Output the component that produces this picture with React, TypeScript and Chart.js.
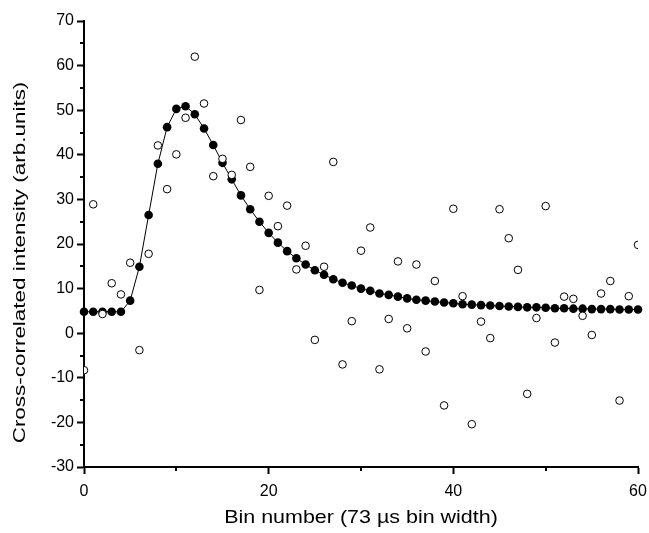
import React, { useEffect, useRef } from "react";
import { Chart, registerables } from "chart.js";

Chart.register(...registerables);

const binNumbers = [
  0, 1, 2, 3, 4, 5, 6, 7, 8, 9, 10, 11, 12, 13, 14, 15, 16, 17, 18, 19, 20,
  21, 22, 23, 24, 25, 26, 27, 28, 29, 30, 31, 32, 33, 34, 35, 36, 37, 38, 39, 40,
  41, 42, 43, 44, 45, 46, 47, 48, 49, 50, 51, 52, 53, 54, 55, 56, 57, 58, 59, 60,
];

const fittedIntensity = [
  4.8, 4.8, 4.8, 4.8, 4.8, 7.3, 14.9, 26.5, 38.0, 46.2,
  50.3, 50.9, 49.1, 45.9, 42.2, 38.2, 34.5, 30.9, 27.8, 25.0,
  22.5, 20.3, 18.4, 16.8, 15.4, 14.1, 13.1, 12.1, 11.3, 10.7,
  10.0, 9.5, 8.9, 8.6, 8.2, 7.8, 7.5, 7.3, 7.1, 6.9,
  6.7, 6.5, 6.4, 6.3, 6.2, 6.1, 6.0, 5.9, 5.8, 5.8,
  5.7, 5.6, 5.6, 5.5, 5.5, 5.4, 5.4, 5.4, 5.3, 5.3,
  5.3,
];

const measuredIntensity = [
  -8.3, 28.9, 4.3, 11.2, 8.7, 15.8, -3.8, 17.8, 42.1, 32.3,
  40.1, 48.3, 62.0, 51.5, 35.2, 39.1, 35.5, 47.8, 37.3, 9.7,
  30.8, 24.0, 28.6, 14.3, 19.6, -1.5, 14.9, 38.4, -7.0, 2.7,
  18.5, 23.7, -8.1, 3.2, 16.1, 1.1, 15.4, -4.1, 11.7, -16.2,
  27.9, 8.3, -20.4, 2.6, -1.1, 27.8, 21.3, 14.2, -13.6, 3.4,
  28.5, -2.1, 8.2, 7.7, 3.9, -0.4, 8.9, 11.7, -15.1, 8.3,
  19.8,
];

const yMinorTicks = [-25, -15, -5, 5, 15, 25, 35, 45, 55, 65];
const xMinorTicks = [10, 30, 50];

const xTitle = "Bin number (73 µs bin width)";
const yTitle = "Cross-correlated intensity (arb.units)";

const FONT = "'Liberation Sans', Arial, Helvetica, sans-serif";

const axisDecorPlugin = {
  id: "axisDecor",
  afterDraw(chart: any) {
    const { ctx, chartArea, scales } = chart;
    ctx.save();
    ctx.strokeStyle = "#000";
    ctx.lineWidth = 2;
    ctx.beginPath();
    for (const v of yMinorTicks) {
      const py = Math.round(scales.y.getPixelForValue(v));
      ctx.moveTo(chartArea.left - 4, py);
      ctx.lineTo(chartArea.left, py);
    }
    for (const v of xMinorTicks) {
      const px = Math.round(scales.x.getPixelForValue(v));
      ctx.moveTo(px, chartArea.bottom);
      ctx.lineTo(px, chartArea.bottom + 4);
    }
    ctx.stroke();
    ctx.restore();

    // x-axis title (glyphs slightly widened as in the reference)
    ctx.save();
    ctx.fillStyle = "#000";
    ctx.font = `18.5px ${FONT}`;
    ctx.textAlign = "center";
    ctx.textBaseline = "alphabetic";
    ctx.translate((chartArea.left + chartArea.right) / 2, chartArea.bottom + 55.5);
    ctx.scale(1.16, 1);
    ctx.fillText(xTitle, 0, 0);
    ctx.restore();

    // y-axis title
    ctx.save();
    ctx.fillStyle = "#000";
    ctx.font = `17px ${FONT}`;
    ctx.textAlign = "center";
    ctx.textBaseline = "alphabetic";
    ctx.translate(chartArea.left - 59, (chartArea.top + chartArea.bottom) / 2 + 18.5);
    ctx.rotate(-Math.PI / 2);
    ctx.scale(1.32, 1);
    ctx.fillText(yTitle, 0, 0);
    ctx.restore();
  },
};

export default function App() {
  const canvasRef = useRef<HTMLCanvasElement | null>(null);

  useEffect(() => {
    if (!canvasRef.current) return;
    const chart = new Chart(canvasRef.current, {
      type: "scatter",
      data: {
        datasets: [
          {
            label: "Measured",
            data: binNumbers.map((b, i) => ({ x: b, y: measuredIntensity[i] })),
            showLine: false,
            pointStyle: "circle",
            pointRadius: 3.8,
            pointBorderWidth: 1,
            pointBackgroundColor: "#fff",
            pointBorderColor: "#000",
            clip: 0,
          } as any,
          {
            label: "Fit",
            data: binNumbers.map((b, i) => ({ x: b, y: fittedIntensity[i] })),
            showLine: true,
            borderColor: "#000",
            borderWidth: 1,
            pointStyle: "circle",
            pointRadius: 4.3,
            pointBorderWidth: 0,
            pointBackgroundColor: "#000",
            pointBorderColor: "#000",
            clip: false,
          } as any,
        ],
      },
      options: {
        animation: false,
        responsive: false,
        maintainAspectRatio: false,
        layout: { padding: { left: 0, top: 13, right: 11, bottom: 0 } },
        plugins: {
          legend: { display: false },
          tooltip: { enabled: false },
        },
        scales: {
          x: {
            type: "linear",
            min: 0,
            max: 60,
            afterFit: (s: any) => {
              s.height = 66;
              s.paddingLeft = 0;
              s.paddingRight = 0;
            },
            ticks: {
              stepSize: 20,
              color: "#000",
              font: { family: FONT, size: 16 },
              padding: 8,
              maxRotation: 0,
            },
            grid: {
              display: true,
              drawOnChartArea: false,
              drawTicks: true,
              tickLength: 7,
              tickWidth: 2,
              tickColor: "#000",
            },
            border: { display: true, color: "#000", width: 2 },
            title: { display: false, text: xTitle },
          },
          y: {
            type: "linear",
            min: -30,
            max: 70,
            afterFit: (s: any) => {
              s.width = 76;
            },
            ticks: {
              stepSize: 10,
              color: "#000",
              font: { family: FONT, size: 16 },
              padding: 3,
            },
            grid: {
              display: true,
              drawOnChartArea: false,
              drawTicks: true,
              tickLength: 7,
              tickWidth: 2,
              tickColor: "#000",
            },
            border: { display: true, color: "#000", width: 2 },
            title: { display: false, text: yTitle },
          },
        },
      } as any,
      plugins: [axisDecorPlugin],
    });
    return () => chart.destroy();
  }, []);

  return (
    <div style={{ position: "fixed", left: 8, top: 8, width: 641, height: 525 }}>
      <canvas ref={canvasRef} width={641} height={525} style={{ display: "block" }} />
    </div>
  );
}
